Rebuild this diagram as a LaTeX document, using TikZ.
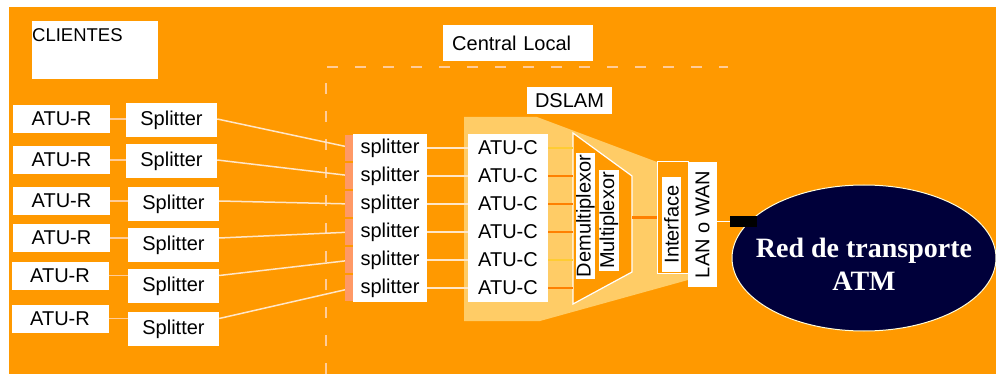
\documentclass[tikz,border=0pt]{standalone}
\usepackage{fontspec}
\setmainfont{Liberation Sans}
\newfontfamily\atmfont{Liberation Serif}
\usetikzlibrary{positioning,shapes.geometric,calc}
\definecolor{bg}{HTML}{FF9900}
\definecolor{dslamc}{HTML}{FFCC66}
\definecolor{wirec}{HTML}{FFE6C8}
\definecolor{shortw}{HTML}{FFCC99}
\definecolor{salm}{HTML}{FF9966}
\definecolor{yel}{HTML}{FFCC33}
\definecolor{dko}{HTML}{FF8000}
\definecolor{navy}{HTML}{00003A}
\definecolor{dashc}{HTML}{FFCC99}

\begin{document}
\begin{tikzpicture}[x=1pt,y=-1pt,
  box/.style={fill=white,inner sep=0pt,font=\fontsize{20}{24}\selectfont},
  wire/.style={wirec,line width=1.5pt},
  vbox/.style={box,rotate=90,inner xsep=2pt}]
  \useasboundingbox (0,0) rectangle (996,374);
  \fill[white] (0,0) rectangle (996,374);
  \fill[bg] (9,7) rectangle (996,374);
  % central local frame
  \draw[dashc,line width=1.5pt,dash pattern=on 11pt off 17pt] (326,374) -- (326,67) -- (728,67);
  \node[box,anchor=west,minimum height=36pt,text width=132pt,inner xsep=9pt,align=left] (central) at (443,43) {Central Local};
  \node[box,anchor=north west,minimum width=126pt,minimum height=58pt,
    label={[anchor=north west,inner sep=0pt,yshift=-7pt,font=\fontsize{18.5}{22}\selectfont]north west:CLIENTES}] (clientes) at (32,21) {};
  % DSLAM
  \fill[dslamc] (464,117) -- (537,117) -- (657,162) -- (688,162) -- (688,280) -- (540,321) -- (464,321) -- cycle;
  \node[box,minimum width=85pt,minimum height=27pt] (dslam) at (569.5,100.5) {DSLAM};
  \draw[white,fill=bg,line width=1.2pt] (573,133) -- (632,176) -- (632,272) -- (573,304) -- cycle;
  \coordinate (dmxw) at (573,0);
  \coordinate (dmxe) at (632,0);
  \node[vbox,minimum height=19pt] (demux) at (585.5,216) {Demultiplexor};
  \node[vbox,minimum height=20pt] (mux) at (609,220.5) {Multiplexor};
  \node[draw=white,fill=bg,line width=1pt,minimum width=31pt,minimum height=111pt,inner sep=0pt] (ifbox) at (672.5,217.5) {};
  \node[vbox,minimum height=19pt,minimum width=95pt] (iface) at (671.5,224.5) {Interface};
  \node[vbox,minimum height=29pt,minimum width=125pt] (lan) at (702.5,224.5) {LAN o WAN};
  % clients
  \foreach \i/\ax/\ay/\sx/\sy in {1/61.5/119/171.5/120,2/61.5/160/171.5/161,3/61.5/201/173.5/204,
      4/61.5/238/173.5/245,5/60/275.5/173.5/286,6/60/318.5/173.5/329} {
    \node[box,minimum width=97pt,minimum height=28pt] (atur\i) at (\ax,\ay) {ATU-R};
    \node[box,minimum width=91pt,minimum height=34pt] (spl\i) at (\sx,\sy) {Splitter};
  }
  \foreach \i in {1,...,6} {
    \node[box,minimum width=74pt,minimum height=28.4pt] (sp\i) at (390,120+28*\i) {splitter};
    \node[box,minimum width=80pt,minimum height=28.4pt] (atuc\i) at (508,120+28*\i) {ATU-C};
    \draw[shortw,line width=1.5pt] (atur\i.east) -- (atur\i.east -| spl\i.west);
    \draw[wire] (spl\i.east |- atur\i.east) -- (sp\i.west);
    \draw[wire] (sp\i.east) -- (atuc\i.west);
    \fill[salm] ([xshift=-8pt,yshift=13pt]sp\i.west) rectangle ([yshift=-13pt]sp\i.west);
  }
  \foreach \i/\c in {1/yel,2/dko,3/dko,4/dko,5/yel,6/dko}
    \draw[\c,line width=2pt] (atuc\i.east) -- (atuc\i.east -| dmxw);
  \draw[dko,line width=3pt] (ifbox.west) -- (ifbox.west -| dmxe);
  % ATM network
  \node[ellipse,fill=navy,draw=white!85!yellow,line width=1pt,minimum width=264pt,minimum height=146pt,inner sep=0pt] (atm) at (864,258) {};
  \node[text=white,align=center,font=\atmfont\bfseries\fontsize{28}{33}\selectfont] (atmlbl) at (864,264) {Red de transporte\\ATM};
  \node[fill=black,minimum width=27pt,minimum height=11pt,inner sep=0pt] (jack) at (743.5,221.5) {};
  \draw[white,line width=1.5pt] (jack.west) -- (jack.west -| lan.east);
\end{tikzpicture}
\end{document}
